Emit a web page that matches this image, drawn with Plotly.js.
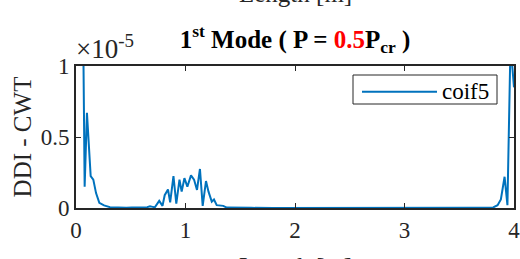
<!DOCTYPE html>
<html>
<head>
<meta charset="utf-8">
<script src="https://cdn.plot.ly/plotly-3.0.1.min.js"></script>
<style>html,body{margin:0;padding:0;background:#fff;}#chart{width:520px;height:259px;}</style>
</head>
<body>
<div id="chart"></div>
<script>
// Length along the member [m]
const lengthM = [0.065, 0.079, 0.10, 0.134, 0.158, 0.183, 0.213, 0.256, 0.31, 0.36, 0.41, 0.46, 0.51, 0.56, 0.61, 0.65, 0.676, 0.70, 0.72, 0.76, 0.79, 0.81, 0.84, 0.86, 0.89, 0.916, 0.945, 0.965, 0.99, 1.017, 1.05, 1.078, 1.105, 1.132, 1.157, 1.187, 1.21, 1.24, 1.26, 1.285, 1.315, 1.345, 1.376, 1.45, 1.6, 1.8, 2.0, 2.2, 2.4, 2.6, 2.8, 3.0, 3.2, 3.4, 3.6, 3.75, 3.81, 3.85, 3.88, 3.914, 3.94, 3.968, 4.0];
// DDI - CWT values, in units of 1e-5
const ddiCwt = [1.3, 0.15, 0.67, 0.225, 0.20, 0.105, 0.037, 0.018, 0.006, 0.003, 0.002, 0.002, 0.003, 0.002, 0.004, 0.006, 0.012, 0.008, 0.005, 0.05, 0.015, 0.09, 0.13, 0.04, 0.225, 0.03, 0.20, 0.115, 0.21, 0.15, 0.23, 0.20, 0.127, 0.275, 0.015, 0.19, 0.115, 0.045, 0.06, 0.02, 0.015, 0.015, 0.003, 0.001, 0.001, 0.0005, 0, 0, 0, 0, 0, 0, 0, 0, 0.001, 0.002, 0.004, 0.02, 0.06, 0.22, 0.02, 1.15, 0.85];
const seriesName = 'coif5';
const xTicks = [0, 1, 2, 3, 4];
const xTickText = ['0', '1', '2', '3', '4'];
const yTicks = [0, 0.5, 1];
const yTickText = ['0', '0.5', '1'];

const serif = 'Liberation Serif';
const axisColor = '#262626';
const lineColor = '#0072BD';

const trace = {
  x: lengthM, y: ddiCwt, name: seriesName, type: 'scatter', mode: 'lines',
  line: {color: lineColor, width: 2}, showlegend: false
};

const layout = {
  width: 520, height: 259,
  margin: {l: 76, r: 6, t: 66, b: 51},
  paper_bgcolor: '#fff', plot_bgcolor: '#fff',
  font: {family: serif, color: axisColor},
  title: {
    text: '<b>1<sup>st</sup> Mode ( P = <span style="color:#ff0000">0.5</span>P<sub>cr</sub> )</b>',
    font: {family: serif, size: 25, color: '#000'},
    x: 0.5, xref: 'paper', xanchor: 'center',
    y: 1 - 39/259, yref: 'container', yanchor: 'middle'
  },
  xaxis: {
    range: [0, 4], tickvals: xTicks, ticktext: xTickText,
    showline: true, mirror: 'ticks', linecolor: axisColor, linewidth: 2,
    ticks: 'inside', ticklen: 5, tickwidth: 1, tickcolor: axisColor,
    showgrid: false, zeroline: false, ticklabeloverflow: 'allow',
    tickfont: {family: serif, size: 23, color: axisColor}
  },
  yaxis: {
    range: [0, 1], tickvals: yTicks, ticktext: yTickText,
    showline: true, mirror: 'ticks', linecolor: axisColor, linewidth: 2,
    ticks: 'inside', ticklen: 5, tickwidth: 1, tickcolor: axisColor,
    showgrid: false, zeroline: false, ticklabeloverflow: 'allow',
    tickfont: {family: serif, size: 23, color: axisColor},
    title: {text: 'DDI - CWT', font: {family: serif, size: 25, color: axisColor}, standoff: 2}
  },
  shapes: [
    {type: 'rect', xref: 'paper', yref: 'paper', x0: (353-76)/438, x1: (497-76)/438, y0: (208-104)/142, y1: (208-75)/142,
     line: {color: axisColor, width: 1}, fillcolor: '#fff'},
    {type: 'line', xref: 'paper', yref: 'paper', x0: (362-76)/438, x1: (437-76)/438, y0: (208-91.7)/142, y1: (208-91.7)/142,
     line: {color: lineColor, width: 2}}
  ],
  annotations: [
    {text: seriesName, xref: 'paper', yref: 'paper', x: (440-76)/438, y: (208-91)/142, xanchor: 'left', yanchor: 'middle',
     showarrow: false, font: {family: serif, size: 23, color: '#000'}},
    {text: '\u00d710<sup>-5</sup>', xref: 'paper', yref: 'paper', x: (74-76)/438, y: (208-47)/142, xanchor: 'left', yanchor: 'middle',
     showarrow: false, font: {family: serif, size: 27, color: axisColor}},
    {text: 'Length [m]', xref: 'paper', yref: 'paper', x: 0.5, y: (208-251)/142, xanchor: 'center', yanchor: 'top',
     showarrow: false, font: {family: serif, size: 25, color: axisColor}},
    {text: 'Length [m]', xref: 'paper', yref: 'paper', x: 0.5, y: (208-9)/142, xanchor: 'center', yanchor: 'bottom',
     showarrow: false, font: {family: serif, size: 25, color: axisColor}}
  ]
};

Plotly.newPlot('chart', [trace], layout, {displayModeBar: false, staticPlot: true});
</script>
</body>
</html>
